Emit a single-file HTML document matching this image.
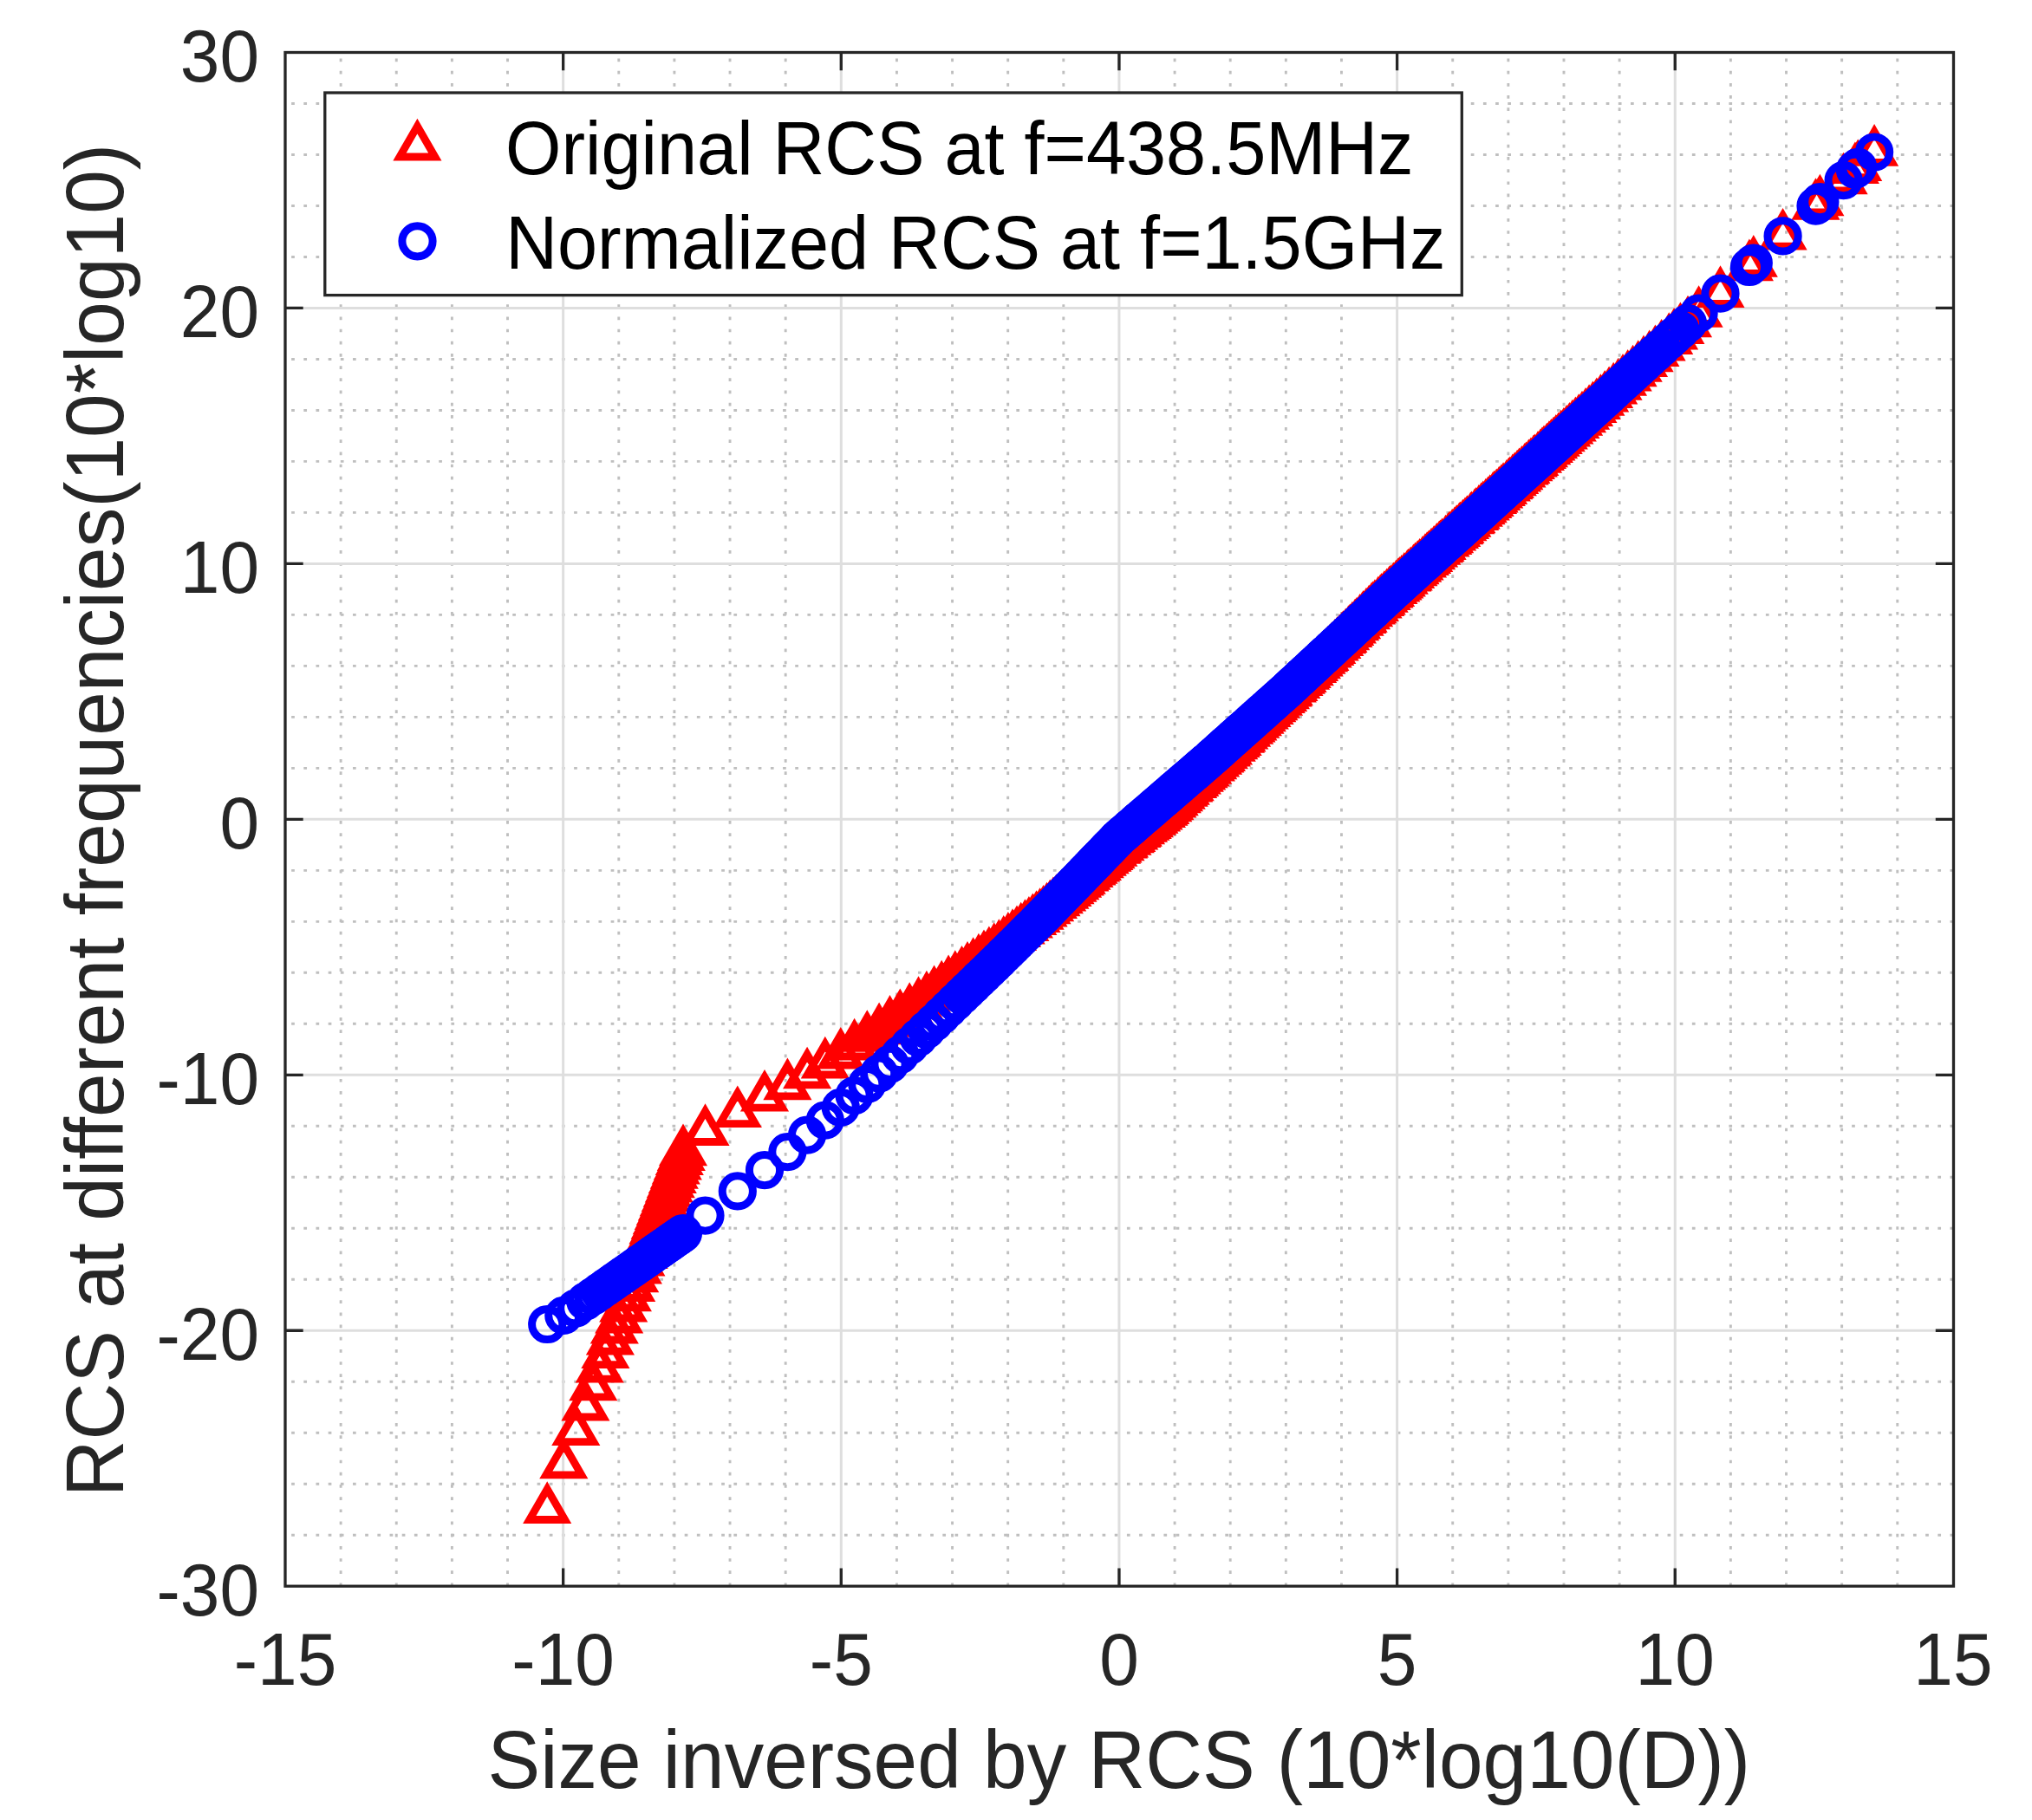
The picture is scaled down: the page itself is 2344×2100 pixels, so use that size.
<!DOCTYPE html>
<html><head><meta charset="utf-8"><title>RCS plot</title>
<style>html,body{margin:0;padding:0;background:#fff}svg{display:block}</style></head>
<body>
<svg width="2344" height="2100" viewBox="0 0 2344 2100">
<rect width="2344" height="2100" fill="#fff"/>
<path d="M393.13 1830.2V60.50M457.26 1830.2V60.50M521.39 1830.2V60.50M585.52 1830.2V60.50M713.78 1830.2V60.50M777.91 1830.2V60.50M842.04 1830.2V60.50M906.17 1830.2V60.50M1034.43 1830.2V60.50M1098.56 1830.2V60.50M1162.69 1830.2V60.50M1226.82 1830.2V60.50M1355.08 1830.2V60.50M1419.21 1830.2V60.50M1483.34 1830.2V60.50M1547.47 1830.2V60.50M1675.73 1830.2V60.50M1739.86 1830.2V60.50M1803.99 1830.2V60.50M1868.12 1830.2V60.50M1996.38 1830.2V60.50M2060.51 1830.2V60.50M2124.64 1830.2V60.50M2188.77 1830.2V60.50" stroke="#bfbfbf" stroke-width="2.9" stroke-dasharray="3.7 10.485" fill="none"/>
<path d="M336.15 1771.21H2253.50M336.15 1712.22H2253.50M336.15 1653.23H2253.50M336.15 1594.24H2253.50M336.15 1476.26H2253.50M336.15 1417.27H2253.50M336.15 1358.28H2253.50M336.15 1299.29H2253.50M336.15 1181.31H2253.50M336.15 1122.32H2253.50M336.15 1063.33H2253.50M336.15 1004.34H2253.50M336.15 886.36H2253.50M336.15 827.37H2253.50M336.15 768.38H2253.50M336.15 709.39H2253.50M336.15 591.41H2253.50M336.15 532.42H2253.50M336.15 473.43H2253.50M336.15 414.44H2253.50M336.15 296.46H2253.50M336.15 237.47H2253.50M336.15 178.48H2253.50M336.15 119.49H2253.50" stroke="#bfbfbf" stroke-width="2.9" stroke-dasharray="3.7 10.473" fill="none"/>
<path d="M649.65 1830.20V60.50M970.30 1830.20V60.50M1290.95 1830.20V60.50M1611.60 1830.20V60.50M1932.25 1830.20V60.50M329.00 1535.25H2253.50M329.00 1240.30H2253.50M329.00 945.35H2253.50M329.00 650.40H2253.50M329.00 355.45H2253.50" stroke="#dedede" stroke-width="3" fill="none"/>
<path d="M631.2 1718.1l-20.45 35.42h40.90zM650.3 1666.4l-20.45 35.42h40.90zM664.3 1628.2l-20.45 35.42h40.90zM675.4 1599.6l-20.45 35.42h40.90zM684.3 1576.5l-20.45 35.42h40.90zM691.7 1555.7l-20.45 35.42h40.90zM698.4 1539.2l-20.45 35.42h40.90zM703.9 1523.7l-20.45 35.42h40.90zM708.8 1510.6l-20.45 35.42h40.90zM714.2 1498.7l-20.45 35.42h40.90zM719.2 1485.6l-20.45 35.42h40.90zM723.9 1473.4l-20.45 35.42h40.90zM728.2 1462.1l-20.45 35.42h40.90zM732.2 1451.5l-20.45 35.42h40.90zM735.9 1441.8l-20.45 35.42h40.90zM739.4 1432.6l-20.45 35.42h40.90zM742.6 1424.2l-20.45 35.42h40.90zM745.7 1416.3l-20.45 35.42h40.90zM748.5 1409.0l-20.45 35.42h40.90zM751.1 1402.1l-20.45 35.42h40.90zM753.5 1395.8l-20.45 35.42h40.90zM755.7 1389.9l-20.45 35.42h40.90zM757.8 1384.4l-20.45 35.42h40.90zM759.8 1379.2l-20.45 35.42h40.90zM761.8 1374.0l-20.45 35.42h40.90zM763.8 1368.7l-20.45 35.42h40.90zM765.8 1363.5l-20.45 35.42h40.90zM767.8 1358.2l-20.45 35.42h40.90zM769.8 1353.0l-20.45 35.42h40.90zM771.8 1347.8l-20.45 35.42h40.90zM773.8 1342.5l-20.45 35.42h40.90zM775.8 1337.3l-20.45 35.42h40.90zM777.8 1332.0l-20.45 35.42h40.90zM779.8 1326.8l-20.45 35.42h40.90zM781.8 1321.6l-20.45 35.42h40.90zM783.8 1316.3l-20.45 35.42h40.90zM785.8 1311.1l-20.45 35.42h40.90zM788.0 1305.4l-20.45 35.42h40.90zM813.5 1282.1l-20.45 35.42h40.90zM850.8 1261.2l-20.45 35.42h40.90zM882.0 1242.7l-20.45 35.42h40.90zM908.4 1229.4l-20.45 35.42h40.90zM931.1 1216.5l-20.45 35.42h40.90zM951.8 1204.6l-20.45 35.42h40.90zM969.8 1193.7l-20.45 35.42h40.90zM985.6 1183.6l-20.45 35.42h40.90zM1000.3 1174.0l-20.45 35.42h40.90zM1014.1 1165.4l-20.45 35.42h40.90zM1026.5 1156.9l-20.45 35.42h40.90zM1038.3 1149.2l-20.45 35.42h40.90zM1049.2 1142.1l-20.45 35.42h40.90zM1059.5 1135.1l-20.45 35.42h40.90zM1068.9 1128.6l-20.45 35.42h40.90zM1077.6 1122.3l-20.45 35.42h40.90zM1086.2 1116.5l-20.45 35.42h40.90zM1094.1 1110.4l-20.45 35.42h40.90zM1101.8 1105.1l-20.45 35.42h40.90zM1109.5 1099.8l-20.45 35.42h40.90zM1116.0 1094.8l-20.45 35.42h40.90zM1122.6 1090.1l-20.45 35.42h40.90zM1128.9 1085.6l-20.45 35.42h40.90zM1135.0 1081.3l-20.45 35.42h40.90zM1140.9 1077.2l-20.45 35.42h40.90zM1146.7 1073.1l-20.45 35.42h40.90zM1152.3 1069.1l-20.45 35.42h40.90zM1157.7 1064.9l-20.45 35.42h40.90zM1162.9 1060.9l-20.45 35.42h40.90zM1168.0 1057.1l-20.45 35.42h40.90zM1173.0 1053.3l-20.45 35.42h40.90zM1177.7 1049.6l-20.45 35.42h40.90zM1182.4 1046.1l-20.45 35.42h40.90zM1186.9 1042.7l-20.45 35.42h40.90zM1191.3 1039.3l-20.45 35.42h40.90zM1195.5 1036.1l-20.45 35.42h40.90zM1199.6 1033.0l-20.45 35.42h40.90zM1203.6 1029.7l-20.45 35.42h40.90zM1207.5 1026.5l-20.45 35.42h40.90zM1211.2 1023.4l-20.45 35.42h40.90zM1214.9 1020.3l-20.45 35.42h40.90zM1218.4 1017.4l-20.45 35.42h40.90zM1221.8 1014.5l-20.45 35.42h40.90zM1225.2 1011.7l-20.45 35.42h40.90zM1228.4 1008.9l-20.45 35.42h40.90zM1231.5 1006.1l-20.45 35.42h40.90zM1234.5 1003.5l-20.45 35.42h40.90zM1237.5 1000.9l-20.45 35.42h40.90zM1240.3 998.4l-20.45 35.42h40.90zM1243.1 996.0l-20.45 35.42h40.90zM1245.8 993.6l-20.45 35.42h40.90zM1247.7 992.0l-20.45 35.42h40.90zM1251.4 988.7l-20.45 35.42h40.90zM1253.5 986.9l-20.45 35.42h40.90zM1256.5 984.2l-20.45 35.42h40.90zM1259.5 981.6l-20.45 35.42h40.90zM1261.4 980.0l-20.45 35.42h40.90zM1264.0 977.7l-20.45 35.42h40.90zM1265.9 976.1l-20.45 35.42h40.90zM1268.8 973.5l-20.45 35.42h40.90zM1271.8 970.9l-20.45 35.42h40.90zM1274.7 968.4l-20.45 35.42h40.90zM1277.5 966.0l-20.45 35.42h40.90zM1279.4 964.3l-20.45 35.42h40.90zM1281.5 962.4l-20.45 35.42h40.90zM1284.4 959.9l-20.45 35.42h40.90zM1288.0 957.0l-20.45 35.42h40.90zM1289.5 955.8l-20.45 35.42h40.90zM1292.5 953.4l-20.45 35.42h40.90zM1295.9 950.7l-20.45 35.42h40.90zM1297.0 949.8l-20.45 35.42h40.90zM1300.5 946.9l-20.45 35.42h40.90zM1303.7 944.4l-20.45 35.42h40.90zM1305.2 943.2l-20.45 35.42h40.90zM1308.3 940.7l-20.45 35.42h40.90zM1311.4 938.1l-20.45 35.42h40.90zM1312.8 937.0l-20.45 35.42h40.90zM1316.0 934.4l-20.45 35.42h40.90zM1319.0 932.0l-20.45 35.42h40.90zM1321.5 930.0l-20.45 35.42h40.90zM1323.7 928.2l-20.45 35.42h40.90zM1325.9 926.4l-20.45 35.42h40.90zM1329.0 923.9l-20.45 35.42h40.90zM1331.4 922.0l-20.45 35.42h40.90zM1334.1 919.7l-20.45 35.42h40.90zM1336.6 917.8l-20.45 35.42h40.90zM1339.9 915.1l-20.45 35.42h40.90zM1342.4 913.0l-20.45 35.42h40.90zM1344.3 911.2l-20.45 35.42h40.90zM1347.3 908.4l-20.45 35.42h40.90zM1349.4 906.4l-20.45 35.42h40.90zM1352.3 903.7l-20.45 35.42h40.90zM1354.7 901.4l-20.45 35.42h40.90zM1357.8 898.5l-20.45 35.42h40.90zM1360.0 896.4l-20.45 35.42h40.90zM1362.7 893.9l-20.45 35.42h40.90zM1365.7 891.0l-20.45 35.42h40.90zM1367.8 889.0l-20.45 35.42h40.90zM1371.2 885.8l-20.45 35.42h40.90zM1372.7 884.5l-20.45 35.42h40.90zM1376.2 881.2l-20.45 35.42h40.90zM1378.3 879.2l-20.45 35.42h40.90zM1380.9 876.7l-20.45 35.42h40.90zM1383.8 874.0l-20.45 35.42h40.90zM1386.2 871.7l-20.45 35.42h40.90zM1388.6 869.4l-20.45 35.42h40.90zM1390.6 867.6l-20.45 35.42h40.90zM1393.3 865.0l-20.45 35.42h40.90zM1396.9 861.6l-20.45 35.42h40.90zM1399.2 859.4l-20.45 35.42h40.90zM1402.1 856.7l-20.45 35.42h40.90zM1405.1 853.9l-20.45 35.42h40.90zM1407.3 851.8l-20.45 35.42h40.90zM1408.9 850.3l-20.45 35.42h40.90zM1411.9 847.5l-20.45 35.42h40.90zM1414.9 844.6l-20.45 35.42h40.90zM1417.0 842.7l-20.45 35.42h40.90zM1420.7 839.0l-20.45 35.42h40.90zM1423.3 836.5l-20.45 35.42h40.90zM1425.7 834.1l-20.45 35.42h40.90zM1427.7 832.1l-20.45 35.42h40.90zM1430.9 829.0l-20.45 35.42h40.90zM1432.4 827.6l-20.45 35.42h40.90zM1435.3 824.7l-20.45 35.42h40.90zM1438.1 821.9l-20.45 35.42h40.90zM1441.2 819.0l-20.45 35.42h40.90zM1443.4 816.8l-20.45 35.42h40.90zM1445.4 814.8l-20.45 35.42h40.90zM1448.3 811.9l-20.45 35.42h40.90zM1450.9 809.4l-20.45 35.42h40.90zM1453.5 806.9l-20.45 35.42h40.90zM1455.8 804.5l-20.45 35.42h40.90zM1458.8 801.6l-20.45 35.42h40.90zM1461.5 799.1l-20.45 35.42h40.90zM1464.6 796.1l-20.45 35.42h40.90zM1467.3 793.5l-20.45 35.42h40.90zM1469.4 791.4l-20.45 35.42h40.90zM1471.9 789.0l-20.45 35.42h40.90zM1475.0 786.0l-20.45 35.42h40.90zM1477.8 783.3l-20.45 35.42h40.90zM1480.1 781.1l-20.45 35.42h40.90zM1482.9 778.4l-20.45 35.42h40.90zM1485.7 775.7l-20.45 35.42h40.90zM1486.8 774.5l-20.45 35.42h40.90zM1490.8 770.7l-20.45 35.42h40.90zM1492.4 769.1l-20.45 35.42h40.90zM1495.3 766.3l-20.45 35.42h40.90zM1498.5 763.3l-20.45 35.42h40.90zM1500.9 760.9l-20.45 35.42h40.90zM1502.6 759.3l-20.45 35.42h40.90zM1506.0 755.9l-20.45 35.42h40.90zM1507.7 754.3l-20.45 35.42h40.90zM1510.8 751.4l-20.45 35.42h40.90zM1514.1 748.2l-20.45 35.42h40.90zM1516.1 746.2l-20.45 35.42h40.90zM1518.9 743.4l-20.45 35.42h40.90zM1521.7 740.7l-20.45 35.42h40.90zM1524.5 738.0l-20.45 35.42h40.90zM1527.0 735.5l-20.45 35.42h40.90zM1528.4 734.1l-20.45 35.42h40.90zM1531.7 730.8l-20.45 35.42h40.90zM1534.3 728.2l-20.45 35.42h40.90zM1536.3 726.2l-20.45 35.42h40.90zM1539.7 722.8l-20.45 35.42h40.90zM1542.4 720.1l-20.45 35.42h40.90zM1545.3 717.2l-20.45 35.42h40.90zM1548.1 714.4l-20.45 35.42h40.90zM1549.4 713.1l-20.45 35.42h40.90zM1552.2 710.4l-20.45 35.42h40.90zM1555.4 707.1l-20.45 35.42h40.90zM1557.2 705.3l-20.45 35.42h40.90zM1559.9 702.6l-20.45 35.42h40.90zM1563.1 699.4l-20.45 35.42h40.90zM1565.1 697.5l-20.45 35.42h40.90zM1568.6 693.9l-20.45 35.42h40.90zM1571.4 691.2l-20.45 35.42h40.90zM1572.6 689.9l-20.45 35.42h40.90zM1576.0 686.5l-20.45 35.42h40.90zM1579.1 683.5l-20.45 35.42h40.90zM1581.9 680.7l-20.45 35.42h40.90zM1583.4 679.4l-20.45 35.42h40.90zM1585.9 677.1l-20.45 35.42h40.90zM1589.6 673.6l-20.45 35.42h40.90zM1592.2 671.2l-20.45 35.42h40.90zM1593.7 669.8l-20.45 35.42h40.90zM1596.7 667.0l-20.45 35.42h40.90zM1599.7 664.2l-20.45 35.42h40.90zM1602.5 661.6l-20.45 35.42h40.90zM1604.1 660.3l-20.45 35.42h40.90zM1607.4 657.2l-20.45 35.42h40.90zM1610.3 654.6l-20.45 35.42h40.90zM1612.5 652.6l-20.45 35.42h40.90zM1614.4 650.8l-20.45 35.42h40.90zM1616.8 648.7l-20.45 35.42h40.90zM1619.8 645.9l-20.45 35.42h40.90zM1623.3 642.8l-20.45 35.42h40.90zM1624.7 641.6l-20.45 35.42h40.90zM1627.2 639.2l-20.45 35.42h40.90zM1630.4 636.4l-20.45 35.42h40.90zM1632.5 634.4l-20.45 35.42h40.90zM1635.2 632.0l-20.45 35.42h40.90zM1637.6 629.8l-20.45 35.42h40.90zM1641.0 626.7l-20.45 35.42h40.90zM1643.9 624.1l-20.45 35.42h40.90zM1646.1 622.1l-20.45 35.42h40.90zM1648.2 620.2l-20.45 35.42h40.90zM1651.1 617.5l-20.45 35.42h40.90zM1654.1 614.8l-20.45 35.42h40.90zM1657.3 611.9l-20.45 35.42h40.90zM1660.0 609.5l-20.45 35.42h40.90zM1661.4 608.2l-20.45 35.42h40.90zM1663.6 606.2l-20.45 35.42h40.90zM1667.5 602.6l-20.45 35.42h40.90zM1670.3 600.1l-20.45 35.42h40.90zM1672.1 598.4l-20.45 35.42h40.90zM1675.2 595.6l-20.45 35.42h40.90zM1678.0 593.1l-20.45 35.42h40.90zM1680.2 591.1l-20.45 35.42h40.90zM1683.2 588.4l-20.45 35.42h40.90zM1684.4 587.3l-20.45 35.42h40.90zM1687.4 584.5l-20.45 35.42h40.90zM1690.0 582.2l-20.45 35.42h40.90zM1692.4 580.0l-20.45 35.42h40.90zM1696.2 576.5l-20.45 35.42h40.90zM1697.4 575.4l-20.45 35.42h40.90zM1701.1 572.1l-20.45 35.42h40.90zM1702.7 570.7l-20.45 35.42h40.90zM1705.8 567.9l-20.45 35.42h40.90zM1708.5 565.4l-20.45 35.42h40.90zM1710.7 563.4l-20.45 35.42h40.90zM1713.8 560.6l-20.45 35.42h40.90zM1716.4 558.2l-20.45 35.42h40.90zM1718.7 556.1l-20.45 35.42h40.90zM1722.0 553.1l-20.45 35.42h40.90zM1723.6 551.6l-20.45 35.42h40.90zM1726.3 549.2l-20.45 35.42h40.90zM1729.2 546.6l-20.45 35.42h40.90zM1731.8 544.2l-20.45 35.42h40.90zM1734.1 542.1l-20.45 35.42h40.90zM1737.9 538.7l-20.45 35.42h40.90zM1740.3 536.5l-20.45 35.42h40.90zM1741.8 535.2l-20.45 35.42h40.90zM1744.8 532.4l-20.45 35.42h40.90zM1747.2 530.2l-20.45 35.42h40.90zM1750.1 527.6l-20.45 35.42h40.90zM1752.4 525.4l-20.45 35.42h40.90zM1755.4 522.8l-20.45 35.42h40.90zM1758.7 519.8l-20.45 35.42h40.90zM1760.4 518.2l-20.45 35.42h40.90zM1763.4 515.4l-20.45 35.42h40.90zM1765.9 513.2l-20.45 35.42h40.90zM1768.8 510.6l-20.45 35.42h40.90zM1770.3 509.2l-20.45 35.42h40.90zM1774.0 505.9l-20.45 35.42h40.90zM1776.9 503.2l-20.45 35.42h40.90zM1778.9 501.3l-20.45 35.42h40.90zM1781.0 499.4l-20.45 35.42h40.90zM1784.3 496.5l-20.45 35.42h40.90zM1786.9 494.1l-20.45 35.42h40.90zM1789.4 491.8l-20.45 35.42h40.90zM1792.1 489.4l-20.45 35.42h40.90zM1794.8 486.9l-20.45 35.42h40.90zM1797.7 484.3l-20.45 35.42h40.90zM1800.7 481.5l-20.45 35.42h40.90zM1803.8 478.7l-20.45 35.42h40.90zM1807.1 475.8l-20.45 35.42h40.90zM1810.4 472.7l-20.45 35.42h40.90zM1813.8 469.6l-20.45 35.42h40.90zM1817.4 466.3l-20.45 35.42h40.90zM1821.1 463.0l-20.45 35.42h40.90zM1825.0 459.5l-20.45 35.42h40.90zM1829.0 455.9l-20.45 35.42h40.90zM1833.1 452.1l-20.45 35.42h40.90zM1837.4 448.2l-20.45 35.42h40.90zM1841.8 444.2l-20.45 35.42h40.90zM1846.4 440.0l-20.45 35.42h40.90zM1851.2 435.7l-20.45 35.42h40.90zM1856.1 431.2l-20.45 35.42h40.90zM1861.2 426.6l-20.45 35.42h40.90zM1866.5 421.9l-20.45 35.42h40.90zM1872.0 416.9l-20.45 35.42h40.90zM1877.7 411.8l-20.45 35.42h40.90zM1883.6 406.5l-20.45 35.42h40.90zM1889.7 401.0l-20.45 35.42h40.90zM1896.0 395.3l-20.45 35.42h40.90zM1902.6 389.4l-20.45 35.42h40.90zM1909.4 383.3l-20.45 35.42h40.90zM1916.6 376.8l-20.45 35.42h40.90zM1925.2 369.1l-20.45 35.42h40.90zM1931.1 363.8l-20.45 35.42h40.90zM1938.4 357.2l-20.45 35.42h40.90zM1947.0 349.5l-20.45 35.42h40.90zM1959.6 338.0l-20.45 35.42h40.90zM1984.5 315.1l-20.45 35.42h40.90zM2017.9 284.4l-20.45 35.42h40.90zM2022.8 279.9l-20.45 35.42h40.90zM2056.6 248.8l-20.45 35.42h40.90zM2094.5 214.0l-20.45 35.42h40.90zM2099.4 209.5l-20.45 35.42h40.90zM2126.6 184.5l-20.45 35.42h40.90zM2139.9 172.3l-20.45 35.42h40.90zM2143.2 169.2l-20.45 35.42h40.90zM2162.1 151.9l-20.45 35.42h40.90z" fill="none" stroke="#f00" stroke-width="8.8" stroke-linejoin="miter" stroke-miterlimit="10"/>
<g fill="none" stroke="#00f" stroke-width="9">
<circle cx="631.2" cy="1528.0" r="17.6"/>
<circle cx="650.3" cy="1517.8" r="17.6"/>
<circle cx="664.3" cy="1509.5" r="17.6"/>
<circle cx="675.4" cy="1501.7" r="17.6"/>
<circle cx="684.3" cy="1495.5" r="17.6"/>
<circle cx="691.7" cy="1490.3" r="17.6"/>
<circle cx="698.4" cy="1485.7" r="17.6"/>
<circle cx="703.9" cy="1481.8" r="17.6"/>
<circle cx="708.8" cy="1478.4" r="17.6"/>
<circle cx="714.2" cy="1474.6" r="17.6"/>
<circle cx="719.2" cy="1471.1" r="17.6"/>
<circle cx="723.9" cy="1467.9" r="17.6"/>
<circle cx="728.2" cy="1464.9" r="17.6"/>
<circle cx="732.2" cy="1462.1" r="17.6"/>
<circle cx="735.9" cy="1459.4" r="17.6"/>
<circle cx="739.4" cy="1457.0" r="17.6"/>
<circle cx="742.6" cy="1454.8" r="17.6"/>
<circle cx="745.7" cy="1452.7" r="17.6"/>
<circle cx="748.5" cy="1450.7" r="17.6"/>
<circle cx="751.1" cy="1448.9" r="17.6"/>
<circle cx="753.5" cy="1447.2" r="17.6"/>
<circle cx="755.7" cy="1445.6" r="17.6"/>
<circle cx="757.8" cy="1444.2" r="17.6"/>
<circle cx="759.8" cy="1442.8" r="17.6"/>
<circle cx="761.8" cy="1441.4" r="17.6"/>
<circle cx="763.8" cy="1440.0" r="17.6"/>
<circle cx="765.8" cy="1438.6" r="17.6"/>
<circle cx="767.8" cy="1437.2" r="17.6"/>
<circle cx="769.8" cy="1435.8" r="17.6"/>
<circle cx="771.8" cy="1434.4" r="17.6"/>
<circle cx="773.8" cy="1433.0" r="17.6"/>
<circle cx="775.8" cy="1431.6" r="17.6"/>
<circle cx="777.8" cy="1430.2" r="17.6"/>
<circle cx="779.8" cy="1428.8" r="17.6"/>
<circle cx="781.8" cy="1427.4" r="17.6"/>
<circle cx="783.8" cy="1426.0" r="17.6"/>
<circle cx="785.8" cy="1424.6" r="17.6"/>
<circle cx="788.0" cy="1423.1" r="17.6"/>
<circle cx="813.5" cy="1402.6" r="17.6"/>
<circle cx="850.8" cy="1374.4" r="17.6"/>
<circle cx="882.0" cy="1350.1" r="17.6"/>
<circle cx="908.4" cy="1329.1" r="17.6"/>
<circle cx="931.1" cy="1309.6" r="17.6"/>
<circle cx="951.8" cy="1292.6" r="17.6"/>
<circle cx="969.8" cy="1277.9" r="17.6"/>
<circle cx="985.6" cy="1264.0" r="17.6"/>
<circle cx="1000.3" cy="1251.0" r="17.6"/>
<circle cx="1014.1" cy="1238.7" r="17.6"/>
<circle cx="1026.5" cy="1227.8" r="17.6"/>
<circle cx="1038.3" cy="1217.1" r="17.6"/>
<circle cx="1049.2" cy="1206.7" r="17.6"/>
<circle cx="1059.5" cy="1197.0" r="17.6"/>
<circle cx="1068.9" cy="1188.0" r="17.6"/>
<circle cx="1077.6" cy="1179.8" r="17.6"/>
<circle cx="1086.2" cy="1171.5" r="17.6"/>
<circle cx="1094.1" cy="1163.8" r="17.6"/>
<circle cx="1101.8" cy="1156.4" r="17.6"/>
<circle cx="1109.5" cy="1148.9" r="17.6"/>
<circle cx="1116.0" cy="1142.6" r="17.6"/>
<circle cx="1122.6" cy="1136.3" r="17.6"/>
<circle cx="1128.9" cy="1130.2" r="17.6"/>
<circle cx="1135.0" cy="1124.3" r="17.6"/>
<circle cx="1140.9" cy="1118.6" r="17.6"/>
<circle cx="1146.7" cy="1113.0" r="17.6"/>
<circle cx="1152.3" cy="1107.5" r="17.6"/>
<circle cx="1157.7" cy="1102.2" r="17.6"/>
<circle cx="1162.9" cy="1097.1" r="17.6"/>
<circle cx="1168.0" cy="1092.0" r="17.6"/>
<circle cx="1173.0" cy="1087.1" r="17.6"/>
<circle cx="1177.7" cy="1082.3" r="17.6"/>
<circle cx="1182.4" cy="1077.7" r="17.6"/>
<circle cx="1186.9" cy="1073.2" r="17.6"/>
<circle cx="1191.3" cy="1068.8" r="17.6"/>
<circle cx="1195.5" cy="1064.6" r="17.6"/>
<circle cx="1199.6" cy="1060.5" r="17.6"/>
<circle cx="1203.6" cy="1056.5" r="17.6"/>
<circle cx="1207.5" cy="1052.5" r="17.6"/>
<circle cx="1211.2" cy="1048.6" r="17.6"/>
<circle cx="1214.9" cy="1044.8" r="17.6"/>
<circle cx="1218.4" cy="1041.2" r="17.6"/>
<circle cx="1221.8" cy="1037.6" r="17.6"/>
<circle cx="1225.2" cy="1034.2" r="17.6"/>
<circle cx="1228.4" cy="1030.8" r="17.6"/>
<circle cx="1231.5" cy="1027.6" r="17.6"/>
<circle cx="1234.5" cy="1024.5" r="17.6"/>
<circle cx="1237.5" cy="1021.4" r="17.6"/>
<circle cx="1240.3" cy="1018.5" r="17.6"/>
<circle cx="1243.1" cy="1015.6" r="17.6"/>
<circle cx="1245.8" cy="1012.8" r="17.6"/>
<circle cx="1247.7" cy="1010.8" r="17.6"/>
<circle cx="1251.4" cy="1007.0" r="17.6"/>
<circle cx="1253.5" cy="1004.8" r="17.6"/>
<circle cx="1256.5" cy="1001.7" r="17.6"/>
<circle cx="1259.5" cy="998.6" r="17.6"/>
<circle cx="1261.4" cy="996.6" r="17.6"/>
<circle cx="1264.0" cy="994.0" r="17.6"/>
<circle cx="1265.9" cy="992.0" r="17.6"/>
<circle cx="1268.8" cy="989.0" r="17.6"/>
<circle cx="1271.8" cy="985.9" r="17.6"/>
<circle cx="1274.7" cy="982.9" r="17.6"/>
<circle cx="1277.5" cy="980.0" r="17.6"/>
<circle cx="1279.4" cy="978.0" r="17.6"/>
<circle cx="1281.5" cy="975.8" r="17.6"/>
<circle cx="1284.4" cy="972.8" r="17.6"/>
<circle cx="1288.0" cy="969.1" r="17.6"/>
<circle cx="1289.5" cy="967.5" r="17.6"/>
<circle cx="1292.5" cy="964.7" r="17.6"/>
<circle cx="1295.9" cy="961.8" r="17.6"/>
<circle cx="1297.0" cy="960.8" r="17.6"/>
<circle cx="1300.5" cy="957.8" r="17.6"/>
<circle cx="1303.7" cy="955.0" r="17.6"/>
<circle cx="1305.2" cy="953.8" r="17.6"/>
<circle cx="1308.3" cy="951.1" r="17.6"/>
<circle cx="1311.4" cy="948.4" r="17.6"/>
<circle cx="1312.8" cy="947.2" r="17.6"/>
<circle cx="1316.0" cy="944.4" r="17.6"/>
<circle cx="1319.0" cy="941.9" r="17.6"/>
<circle cx="1321.5" cy="939.7" r="17.6"/>
<circle cx="1323.7" cy="937.8" r="17.6"/>
<circle cx="1325.9" cy="935.9" r="17.6"/>
<circle cx="1329.0" cy="933.3" r="17.6"/>
<circle cx="1331.4" cy="931.2" r="17.6"/>
<circle cx="1334.1" cy="928.8" r="17.6"/>
<circle cx="1336.6" cy="926.7" r="17.6"/>
<circle cx="1339.9" cy="923.8" r="17.6"/>
<circle cx="1342.4" cy="921.7" r="17.6"/>
<circle cx="1344.3" cy="920.1" r="17.6"/>
<circle cx="1347.3" cy="917.5" r="17.6"/>
<circle cx="1349.4" cy="915.6" r="17.6"/>
<circle cx="1352.3" cy="913.1" r="17.6"/>
<circle cx="1354.7" cy="911.0" r="17.6"/>
<circle cx="1357.8" cy="908.4" r="17.6"/>
<circle cx="1360.0" cy="906.5" r="17.6"/>
<circle cx="1362.7" cy="904.2" r="17.6"/>
<circle cx="1365.7" cy="901.6" r="17.6"/>
<circle cx="1367.8" cy="899.7" r="17.6"/>
<circle cx="1371.2" cy="896.8" r="17.6"/>
<circle cx="1372.7" cy="895.6" r="17.6"/>
<circle cx="1376.2" cy="892.6" r="17.6"/>
<circle cx="1378.3" cy="890.8" r="17.6"/>
<circle cx="1380.9" cy="888.5" r="17.6"/>
<circle cx="1383.8" cy="886.0" r="17.6"/>
<circle cx="1386.2" cy="883.9" r="17.6"/>
<circle cx="1388.6" cy="881.8" r="17.6"/>
<circle cx="1390.6" cy="880.1" r="17.6"/>
<circle cx="1393.3" cy="877.8" r="17.6"/>
<circle cx="1396.9" cy="874.6" r="17.6"/>
<circle cx="1399.2" cy="872.5" r="17.6"/>
<circle cx="1402.1" cy="870.0" r="17.6"/>
<circle cx="1405.1" cy="867.3" r="17.6"/>
<circle cx="1407.3" cy="865.3" r="17.6"/>
<circle cx="1408.9" cy="863.9" r="17.6"/>
<circle cx="1411.9" cy="861.2" r="17.6"/>
<circle cx="1414.9" cy="858.5" r="17.6"/>
<circle cx="1417.0" cy="856.7" r="17.6"/>
<circle cx="1420.7" cy="853.3" r="17.6"/>
<circle cx="1423.3" cy="851.0" r="17.6"/>
<circle cx="1425.7" cy="848.9" r="17.6"/>
<circle cx="1427.7" cy="847.1" r="17.6"/>
<circle cx="1430.9" cy="844.2" r="17.6"/>
<circle cx="1432.4" cy="842.9" r="17.6"/>
<circle cx="1435.3" cy="840.3" r="17.6"/>
<circle cx="1438.1" cy="837.8" r="17.6"/>
<circle cx="1441.2" cy="835.1" r="17.6"/>
<circle cx="1443.4" cy="833.1" r="17.6"/>
<circle cx="1445.4" cy="831.3" r="17.6"/>
<circle cx="1448.3" cy="828.7" r="17.6"/>
<circle cx="1450.9" cy="826.4" r="17.6"/>
<circle cx="1453.5" cy="824.1" r="17.6"/>
<circle cx="1455.8" cy="822.0" r="17.6"/>
<circle cx="1458.8" cy="819.3" r="17.6"/>
<circle cx="1461.5" cy="816.9" r="17.6"/>
<circle cx="1464.6" cy="814.2" r="17.6"/>
<circle cx="1467.3" cy="811.8" r="17.6"/>
<circle cx="1469.4" cy="809.9" r="17.6"/>
<circle cx="1471.9" cy="807.6" r="17.6"/>
<circle cx="1475.0" cy="804.9" r="17.6"/>
<circle cx="1477.8" cy="802.4" r="17.6"/>
<circle cx="1480.1" cy="800.4" r="17.6"/>
<circle cx="1482.9" cy="797.9" r="17.6"/>
<circle cx="1485.7" cy="795.3" r="17.6"/>
<circle cx="1486.8" cy="794.2" r="17.6"/>
<circle cx="1490.8" cy="790.5" r="17.6"/>
<circle cx="1492.4" cy="789.0" r="17.6"/>
<circle cx="1495.3" cy="786.3" r="17.6"/>
<circle cx="1498.5" cy="783.4" r="17.6"/>
<circle cx="1500.9" cy="781.1" r="17.6"/>
<circle cx="1502.6" cy="779.5" r="17.6"/>
<circle cx="1506.0" cy="776.4" r="17.6"/>
<circle cx="1507.7" cy="774.8" r="17.6"/>
<circle cx="1510.8" cy="772.0" r="17.6"/>
<circle cx="1514.1" cy="768.9" r="17.6"/>
<circle cx="1516.1" cy="767.0" r="17.6"/>
<circle cx="1518.9" cy="764.4" r="17.6"/>
<circle cx="1521.7" cy="761.8" r="17.6"/>
<circle cx="1524.5" cy="759.2" r="17.6"/>
<circle cx="1527.0" cy="756.9" r="17.6"/>
<circle cx="1528.4" cy="755.6" r="17.6"/>
<circle cx="1531.7" cy="752.6" r="17.6"/>
<circle cx="1534.3" cy="750.1" r="17.6"/>
<circle cx="1536.3" cy="748.3" r="17.6"/>
<circle cx="1539.7" cy="745.1" r="17.6"/>
<circle cx="1542.4" cy="742.6" r="17.6"/>
<circle cx="1545.3" cy="739.9" r="17.6"/>
<circle cx="1548.1" cy="737.3" r="17.6"/>
<circle cx="1549.4" cy="736.1" r="17.6"/>
<circle cx="1552.2" cy="733.5" r="17.6"/>
<circle cx="1555.4" cy="730.5" r="17.6"/>
<circle cx="1557.2" cy="728.8" r="17.6"/>
<circle cx="1559.9" cy="726.3" r="17.6"/>
<circle cx="1563.1" cy="723.3" r="17.6"/>
<circle cx="1565.1" cy="721.5" r="17.6"/>
<circle cx="1568.6" cy="718.2" r="17.6"/>
<circle cx="1571.4" cy="715.7" r="17.6"/>
<circle cx="1572.6" cy="714.5" r="17.6"/>
<circle cx="1576.0" cy="711.3" r="17.6"/>
<circle cx="1579.1" cy="708.5" r="17.6"/>
<circle cx="1581.9" cy="705.8" r="17.6"/>
<circle cx="1583.4" cy="704.5" r="17.6"/>
<circle cx="1585.9" cy="702.2" r="17.6"/>
<circle cx="1589.6" cy="698.7" r="17.6"/>
<circle cx="1592.2" cy="696.3" r="17.6"/>
<circle cx="1593.7" cy="694.9" r="17.6"/>
<circle cx="1596.7" cy="692.1" r="17.6"/>
<circle cx="1599.7" cy="689.3" r="17.6"/>
<circle cx="1602.5" cy="686.7" r="17.6"/>
<circle cx="1604.1" cy="685.3" r="17.6"/>
<circle cx="1607.4" cy="682.1" r="17.6"/>
<circle cx="1610.3" cy="679.5" r="17.6"/>
<circle cx="1612.5" cy="677.5" r="17.6"/>
<circle cx="1614.4" cy="675.7" r="17.6"/>
<circle cx="1616.8" cy="673.5" r="17.6"/>
<circle cx="1619.8" cy="670.8" r="17.6"/>
<circle cx="1623.3" cy="667.7" r="17.6"/>
<circle cx="1624.7" cy="666.5" r="17.6"/>
<circle cx="1627.2" cy="664.2" r="17.6"/>
<circle cx="1630.4" cy="661.3" r="17.6"/>
<circle cx="1632.5" cy="659.4" r="17.6"/>
<circle cx="1635.2" cy="656.9" r="17.6"/>
<circle cx="1637.6" cy="654.7" r="17.6"/>
<circle cx="1641.0" cy="651.6" r="17.6"/>
<circle cx="1643.9" cy="649.0" r="17.6"/>
<circle cx="1646.1" cy="647.1" r="17.6"/>
<circle cx="1648.2" cy="645.1" r="17.6"/>
<circle cx="1651.1" cy="642.5" r="17.6"/>
<circle cx="1654.1" cy="639.8" r="17.6"/>
<circle cx="1657.3" cy="636.9" r="17.6"/>
<circle cx="1660.0" cy="634.5" r="17.6"/>
<circle cx="1661.4" cy="633.2" r="17.6"/>
<circle cx="1663.6" cy="631.2" r="17.6"/>
<circle cx="1667.5" cy="627.6" r="17.6"/>
<circle cx="1670.3" cy="625.2" r="17.6"/>
<circle cx="1672.1" cy="623.5" r="17.6"/>
<circle cx="1675.2" cy="620.7" r="17.6"/>
<circle cx="1678.0" cy="618.2" r="17.6"/>
<circle cx="1680.2" cy="616.2" r="17.6"/>
<circle cx="1683.2" cy="613.5" r="17.6"/>
<circle cx="1684.4" cy="612.3" r="17.6"/>
<circle cx="1687.4" cy="609.6" r="17.6"/>
<circle cx="1690.0" cy="607.3" r="17.6"/>
<circle cx="1692.4" cy="605.1" r="17.6"/>
<circle cx="1696.2" cy="601.6" r="17.6"/>
<circle cx="1697.4" cy="600.6" r="17.6"/>
<circle cx="1701.1" cy="597.3" r="17.6"/>
<circle cx="1702.7" cy="595.8" r="17.6"/>
<circle cx="1705.8" cy="593.0" r="17.6"/>
<circle cx="1708.5" cy="590.5" r="17.6"/>
<circle cx="1710.7" cy="588.5" r="17.6"/>
<circle cx="1713.8" cy="585.7" r="17.6"/>
<circle cx="1716.4" cy="583.3" r="17.6"/>
<circle cx="1718.7" cy="581.2" r="17.6"/>
<circle cx="1722.0" cy="578.3" r="17.6"/>
<circle cx="1723.6" cy="576.7" r="17.6"/>
<circle cx="1726.3" cy="574.3" r="17.6"/>
<circle cx="1729.2" cy="571.7" r="17.6"/>
<circle cx="1731.8" cy="569.3" r="17.6"/>
<circle cx="1734.1" cy="567.2" r="17.6"/>
<circle cx="1737.9" cy="563.8" r="17.6"/>
<circle cx="1740.3" cy="561.6" r="17.6"/>
<circle cx="1741.8" cy="560.3" r="17.6"/>
<circle cx="1744.8" cy="557.5" r="17.6"/>
<circle cx="1747.2" cy="555.4" r="17.6"/>
<circle cx="1750.1" cy="552.7" r="17.6"/>
<circle cx="1752.4" cy="550.6" r="17.6"/>
<circle cx="1755.4" cy="547.9" r="17.6"/>
<circle cx="1758.7" cy="544.9" r="17.6"/>
<circle cx="1760.4" cy="543.3" r="17.6"/>
<circle cx="1763.4" cy="540.6" r="17.6"/>
<circle cx="1765.9" cy="538.3" r="17.6"/>
<circle cx="1768.8" cy="535.7" r="17.6"/>
<circle cx="1770.3" cy="534.3" r="17.6"/>
<circle cx="1774.0" cy="531.0" r="17.6"/>
<circle cx="1776.9" cy="528.3" r="17.6"/>
<circle cx="1778.9" cy="526.4" r="17.6"/>
<circle cx="1781.0" cy="524.5" r="17.6"/>
<circle cx="1784.3" cy="521.6" r="17.6"/>
<circle cx="1786.9" cy="519.2" r="17.6"/>
<circle cx="1789.4" cy="516.9" r="17.6"/>
<circle cx="1792.1" cy="514.5" r="17.6"/>
<circle cx="1794.8" cy="512.0" r="17.6"/>
<circle cx="1797.7" cy="509.4" r="17.6"/>
<circle cx="1800.7" cy="506.6" r="17.6"/>
<circle cx="1803.8" cy="503.8" r="17.6"/>
<circle cx="1807.1" cy="500.9" r="17.6"/>
<circle cx="1810.4" cy="497.9" r="17.6"/>
<circle cx="1813.8" cy="494.7" r="17.6"/>
<circle cx="1817.4" cy="491.5" r="17.6"/>
<circle cx="1821.1" cy="488.1" r="17.6"/>
<circle cx="1825.0" cy="484.6" r="17.6"/>
<circle cx="1829.0" cy="481.0" r="17.6"/>
<circle cx="1833.1" cy="477.2" r="17.6"/>
<circle cx="1837.4" cy="473.3" r="17.6"/>
<circle cx="1841.8" cy="469.3" r="17.6"/>
<circle cx="1846.4" cy="465.1" r="17.6"/>
<circle cx="1851.2" cy="460.8" r="17.6"/>
<circle cx="1856.1" cy="456.3" r="17.6"/>
<circle cx="1861.2" cy="451.6" r="17.6"/>
<circle cx="1866.5" cy="446.7" r="17.6"/>
<circle cx="1872.0" cy="441.7" r="17.6"/>
<circle cx="1877.7" cy="436.5" r="17.6"/>
<circle cx="1883.6" cy="431.1" r="17.6"/>
<circle cx="1889.7" cy="425.5" r="17.6"/>
<circle cx="1896.0" cy="419.8" r="17.6"/>
<circle cx="1902.6" cy="413.8" r="17.6"/>
<circle cx="1909.4" cy="407.5" r="17.6"/>
<circle cx="1916.6" cy="401.0" r="17.6"/>
<circle cx="1925.2" cy="393.1" r="17.6"/>
<circle cx="1931.1" cy="387.7" r="17.6"/>
<circle cx="1938.4" cy="381.0" r="17.6"/>
<circle cx="1947.0" cy="373.2" r="17.6"/>
<circle cx="1959.6" cy="361.6" r="17.6"/>
<circle cx="1984.5" cy="338.7" r="17.6"/>
<circle cx="2017.9" cy="308.0" r="17.6"/>
<circle cx="2022.8" cy="303.5" r="17.6"/>
<circle cx="2056.6" cy="272.4" r="17.6"/>
<circle cx="2094.5" cy="237.6" r="17.6"/>
<circle cx="2099.4" cy="233.1" r="17.6"/>
<circle cx="2126.6" cy="208.1" r="17.6"/>
<circle cx="2139.9" cy="195.9" r="17.6"/>
<circle cx="2143.2" cy="192.8" r="17.6"/>
<circle cx="2162.1" cy="175.5" r="17.6"/>
</g>
<rect x="329.0" y="60.5" width="1924.5" height="1769.7" fill="none" stroke="#262626" stroke-width="3.3"/>
<path d="M649.65 1830.2v-20.7M649.65 60.5v20.7M970.30 1830.2v-20.7M970.30 60.5v20.7M1290.95 1830.2v-20.7M1290.95 60.5v20.7M1611.60 1830.2v-20.7M1611.60 60.5v20.7M1932.25 1830.2v-20.7M1932.25 60.5v20.7M329.0 1535.25h20.7M2253.5 1535.25h-20.7M329.0 1240.30h20.7M2253.5 1240.30h-20.7M329.0 945.35h20.7M2253.5 945.35h-20.7M329.0 650.40h20.7M2253.5 650.40h-20.7M329.0 355.45h20.7M2253.5 355.45h-20.7" stroke="#262626" stroke-width="3.3" fill="none"/>
<g font-family="Liberation Sans, sans-serif" fill="#262626" font-size="82">
<text transform="translate(329.0 1944.3) scale(1 1.045)" text-anchor="middle">-15</text>
<text transform="translate(649.6 1944.3) scale(1 1.045)" text-anchor="middle">-10</text>
<text transform="translate(970.3 1944.3) scale(1 1.045)" text-anchor="middle">-5</text>
<text transform="translate(1291.0 1944.3) scale(1 1.045)" text-anchor="middle">0</text>
<text transform="translate(1611.6 1944.3) scale(1 1.045)" text-anchor="middle">5</text>
<text transform="translate(1932.2 1944.3) scale(1 1.045)" text-anchor="middle">10</text>
<text transform="translate(2252.9 1944.3) scale(1 1.045)" text-anchor="middle">15</text>
<text transform="translate(299.0 1863.7) scale(1 1.045)" text-anchor="end">-30</text>
<text transform="translate(299.0 1568.8) scale(1 1.045)" text-anchor="end">-20</text>
<text transform="translate(299.0 1273.8) scale(1 1.045)" text-anchor="end">-10</text>
<text transform="translate(299.0 978.9) scale(1 1.045)" text-anchor="end">0</text>
<text transform="translate(299.0 683.9) scale(1 1.045)" text-anchor="end">10</text>
<text transform="translate(299.0 388.9) scale(1 1.045)" text-anchor="end">20</text>
<text transform="translate(299.0 94.0) scale(1 1.045)" text-anchor="end">30</text>
</g>
<g font-family="Liberation Sans, sans-serif" fill="#262626" font-size="91.0">
<text transform="translate(1290.8 2062.6) scale(1 1.045)" text-anchor="middle">Size inversed by RCS (10*log10(D))</text>
<text transform="translate(141.5 946.6) rotate(-90) scale(1 1.045)" text-anchor="middle">RCS at different frequencies(10*log10)</text>
</g>
<rect x="374.8" y="107" width="1311.5" height="233.60000000000002" fill="#fff" stroke="#262626" stroke-width="3.3"/>
<path d="M481.4 145.59l-20.45 35.42h40.90z" fill="none" stroke="#f00" stroke-width="8.8" stroke-miterlimit="10"/>
<circle cx="481.5" cy="278.3" r="17.6" fill="none" stroke="#00f" stroke-width="9"/>
<g font-family="Liberation Sans, sans-serif" fill="#000" font-size="82.85">
<text transform="translate(583.1 201.3) scale(1 1.045)">Original RCS at f=438.5MHz</text>
<text transform="translate(583.2 310.4) scale(1 1.045)">Normalized RCS at f=1.5GHz</text>
</g>
</svg>
</body></html>
